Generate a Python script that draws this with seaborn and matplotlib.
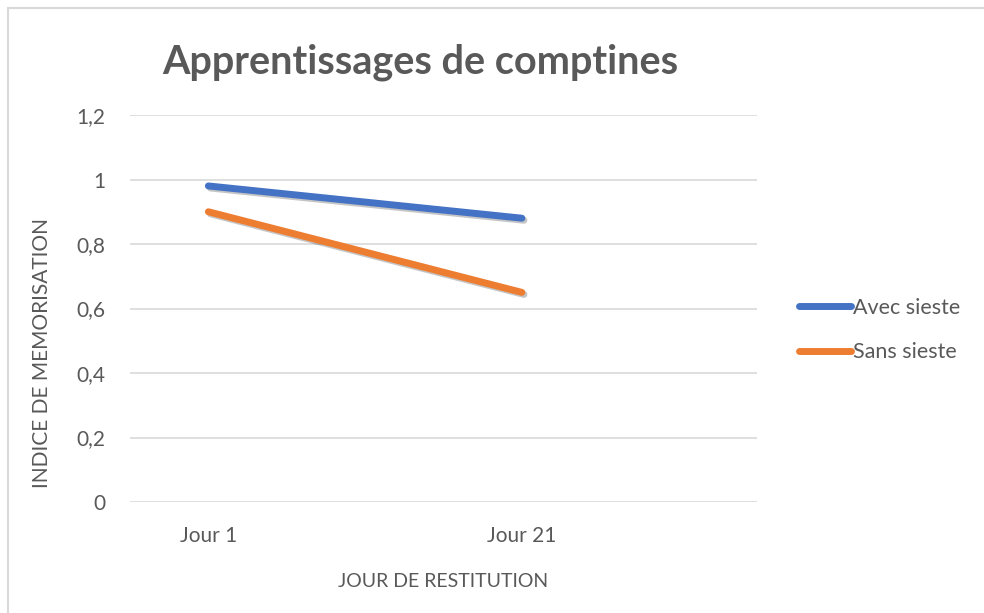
import matplotlib
matplotlib.use("Agg")
import matplotlib.pyplot as plt
import seaborn as sns
import pandas as pd
from matplotlib.patches import Rectangle
from matplotlib.lines import Line2D
import matplotlib.patheffects as pe

# Data
axis_slots = ["Jour 1", "", "Jour 21", ""]
categories = ["Jour 1", "Jour 21"]
avec_sieste = [0.98, 0.88]
sans_sieste = [0.90, 0.65]
series_names = ["Avec sieste", "Sans sieste"]
colors = ["#4472C4", "#ED7D31"]
yticks = [0, 0.2, 0.4, 0.6, 0.8, 1.0, 1.2]
ytick_labels = ["0", "0,2", "0,4", "0,6", "0,8", "1", "1,2"]

rows = []
for name, vals in zip(series_names, [avec_sieste, sans_sieste]):
    for c, v in zip(categories, vals):
        rows.append({"x": axis_slots.index(c), "cat": c, "val": v, "serie": name})
df = pd.DataFrame(rows)

sns.set_theme(style="white")
plt.rcParams["font.family"] = ["Lato", "DejaVu Sans"]
txt = "#595959"

fig = plt.figure(figsize=(9.84, 6.13), dpi=100)
fig.patch.set_facecolor("white")
fig.patches.append(Rectangle((8/984, -0.05), 1.0, (613-8)/613 + 0.05, transform=fig.transFigure,
                             fill=False, edgecolor="#d9d9d9", linewidth=1.5))
ax = fig.add_axes([130/984, 111/613, 627/984, 387/613])

sns.lineplot(data=df, x="x", y="val", hue="serie", palette=colors, linewidth=5,
             ax=ax, legend=False, sort=False)
for line in ax.lines:
    line.set_solid_capstyle("round")
    line.set_path_effects([pe.SimpleLineShadow(offset=(1.5, -1.5), alpha=0.25), pe.Normal()])

ax.set_xlim(-0.5, 3.5)
ax.set_ylim(0, 1.2)
ax.set_yticks(yticks)
ax.set_yticklabels(ytick_labels)
ax.set_xticks([axis_slots.index(c) for c in categories])
ax.set_xticklabels(categories)
ax.grid(axis="y", color="#d9d9d9", linewidth=1.2)
ax.set_axisbelow(True)
for s in ax.spines.values():
    s.set_visible(False)
ax.tick_params(axis="y", length=0, pad=18, labelsize=15, labelcolor=txt)
ax.tick_params(axis="x", length=0, pad=17, labelsize=15, labelcolor=txt)
ax.set_xlabel("JOUR DE RESTITUTION", fontsize=14, color=txt, labelpad=20)
ax.set_ylabel("INDICE DE MEMORISATION", fontsize=15, color=txt)
ax.yaxis.set_label_coords((52 - 130) / 627, (502 - 353) / 387)
ax.set_title("Apprentissages de comptines", fontsize=28.5, fontweight="bold", color=txt,
             x=(420-130)/627, pad=30)

handles = [Line2D([0], [0], color=c, linewidth=5, solid_capstyle="round") for c in colors]
leg = fig.legend(handles, series_names, loc="center left", bbox_to_anchor=(780/984, 1 - 330/613),
                 frameon=False, fontsize=15.5, handlelength=2.4, handletextpad=0.1,
                 labelspacing=1.15, labelcolor=txt)

fig.savefig("out.png", dpi=100)
